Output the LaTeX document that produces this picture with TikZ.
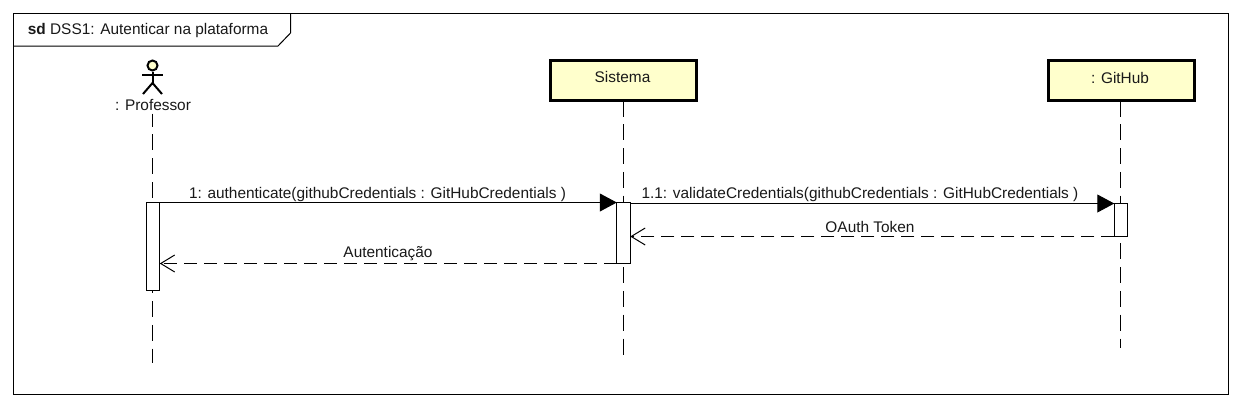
\documentclass[tikz,border=0pt]{standalone}
\usepackage{fontspec}
\setmainfont{Liberation Sans}
\usetikzlibrary{arrows.meta,positioning,calc}
\definecolor{lifeyellow}{HTML}{FFFFCC}
\tikzset{
	txt/.style={inner sep=0pt,outer sep=0pt,font=\fontsize{15.4}{18}\selectfont,text=black!90},
	frame/.style={draw,line width=1pt,inner sep=0pt,outer sep=0pt,minimum width=1215pt,minimum height=381pt},
	obj/.style={draw,line width=3pt,fill=lifeyellow,inner sep=0pt,outer sep=0pt,minimum width=146pt,minimum height=40pt},
	act/.style={draw,line width=1pt,fill=white,inner sep=0pt,outer sep=0pt,minimum width=13.5pt},
	life/.style={line width=1pt,dash pattern=on 16pt off 7.8pt},
	call/.style={line width=1pt,-{Triangle[length=17pt,width=18pt]}},
	reply/.style={line width=1pt,dash pattern=on 13pt off 7pt,-{Straight Barb[length=14pt,width=17pt,line width=1pt]}},
	stick/.style={line width=2pt}
}
\begin{document}
\begin{tikzpicture}[x=1pt,y=-1pt]
	\path[use as bounding box,fill=white] (0,0) rectangle (1241,408);
	% frame and its tab
	\node[frame] (frm) at (621,204) {};
	\node[txt] (title) at (148,31) {\textbf{sd} DSS1: Autenticar na plataforma};
	\draw[line width=1pt] (frm.north west -| 290.5,0) -- (290.5,33) -- (278,46) -- (frm.west |- 0,46);
	% actor
	\node[draw,circle,line width=2pt,fill=lifeyellow,inner sep=0pt,minimum size=10pt] (head) at (152.5,65.5) {};
	\coordinate (hip) at (152.5,83);
	\draw[stick] (head) -- (hip);
	\draw[stick] (142,75) -- (163,75);
	\draw[stick] (143,94) -- (hip) -- (162,94);
	\node[txt] (prof) at (153,105) {: Professor};
	% objects
	\node[obj] (sis) at (623.5,80.5) {};
	\node[obj] (git) at (1121,80.5) {};
	\node[txt] (sistxt) at (622.5,76.5) {Sistema};
	\node[txt] (gittxt) at (1120,78) {: GitHub};
	% lifelines
	\coordinate (profend) at (152.5,363);
	\coordinate (sisend) at (623.5,357);
	\coordinate (gitend) at (1120.5,348);
	\draw[life,dash phase=3pt] (prof.south -| profend) ++(0,3) -- (profend);
	\draw[life] (sis.south -| sisend) -- (sisend);
	\draw[life] (git.south -| gitend) -- (gitend);
	% activations
	\node[act,minimum height=88pt] (actprof) at (153,246.5) {};
	\node[act,minimum height=61pt] (actsis) at (623.5,233) {};
	\node[act,minimum height=33pt] (actgit) at (1121,220) {};
	\coordinate (oauthend) at (actsis.east |- actgit.south);
	\coordinate (autend) at (actprof.east |- actsis.south);
	\coordinate (vstart) at (actsis.east |- actgit.north);
	% messages
	\draw[call] (actprof.north east) -- (actsis.north west);
	\draw[call] (vstart) -- (actgit.north west);
	\draw[reply] (actgit.south west) -- (oauthend);
	\draw[reply] (actsis.south west) -- (autend);
	\node[txt] (m1) at (377.5,194.5) {1: authenticate(githubCredentials : GitHubCredentials )};
	\node[txt] (m2) at (860,195) {1.1: validateCredentials(githubCredentials : GitHubCredentials )};
	\node[txt] (m3) at (870,227) {OAuth Token};
	\node[txt] (m4) at (388,253.5) {Autenticação};
\end{tikzpicture}
\end{document}
